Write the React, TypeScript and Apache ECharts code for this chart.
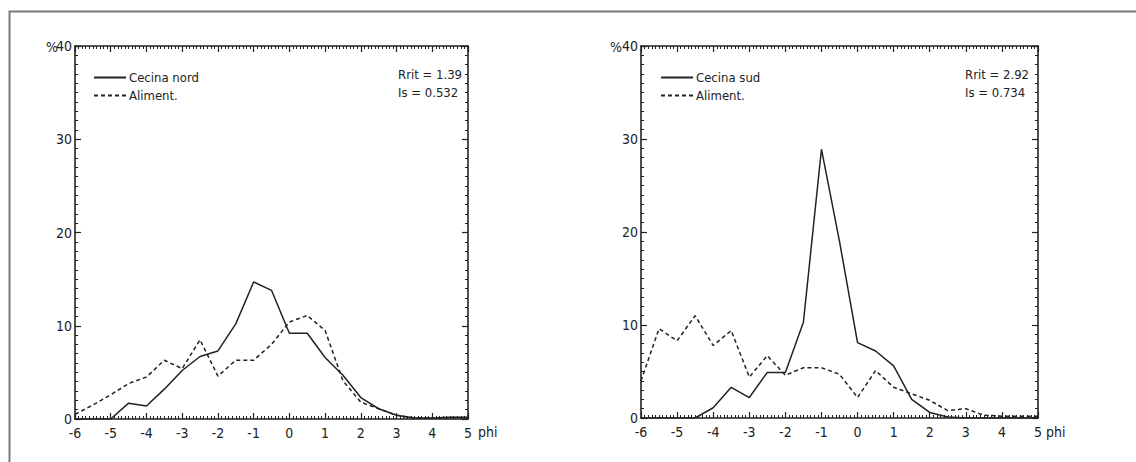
import React, { useEffect, useRef } from "react";
import * as echarts from "echarts";

const phi = [-6, -5.5, -5, -4.5, -4, -3.5, -3, -2.5, -2, -1.5, -1, -0.5, 0, 0.5, 1, 1.5, 2, 2.5, 3, 3.5, 4, 4.5, 5];
const nordSample = [0, 0, 0, 1.7, 1.4, 3.2, 5.2, 6.7, 7.3, 10.2, 14.7, 13.8, 9.2, 9.2, 6.6, 4.7, 2.3, 1.1, 0.4, 0.1, 0.1, 0.2, 0.2];
const nordFeed = [0.5, 1.5, 2.6, 3.8, 4.5, 6.3, 5.4, 8.5, 4.6, 6.3, 6.3, 8.0, 10.4, 11.1, 9.5, 4.1, 1.8, 1.1, 0.4, 0.1, 0.1, 0.1, 0.1];
const sudSample = [0, 0, 0, 0, 1.1, 3.3, 2.2, 4.9, 4.9, 10.3, 28.9, 19.0, 8.1, 7.2, 5.6, 2.0, 0.6, 0.1, 0, 0, 0, 0, 0];
const sudFeed = [4.0, 9.6, 8.3, 11.0, 7.8, 9.4, 4.4, 6.7, 4.6, 5.4, 5.4, 4.7, 2.2, 5.1, 3.3, 2.6, 1.9, 0.8, 1.0, 0.3, 0.2, 0.2, 0.2];
const nordName = "Cecina nord";
const sudName = "Cecina sud";
const feedName = "Aliment.";
const nordStats = ["Rrit = 1.39", "Is = 0.532"];
const sudStats = ["Rrit = 2.92", "Is = 0.734"];

const FONT = "'DejaVu Sans Condensed', 'Liberation Sans Narrow', 'Liberation Sans', Arial, sans-serif";
const INK = "#222222";

function pairs(vals: number[]) {
  return phi.map((x, i) => [x, vals[i]]);
}

export default function App() {
  const ref = useRef<HTMLDivElement>(null);
  useEffect(() => {
    document.body.style.margin = "0";
    if (!ref.current) return;
    const chart = echarts.init(ref.current, undefined, { renderer: "svg" });

    const grids = [
      { left: 75, top: 46, width: 393, height: 373 },
      { left: 641, top: 46, width: 397, height: 372 },
    ];

    const xAxis: any[] = [];
    const yAxis: any[] = [];
    grids.forEach((_, gi) => {
      const base = {
        type: "value",
        gridIndex: gi,
        min: -6,
        max: 5,
        interval: 1,
        splitLine: { show: false },
        axisLine: { show: true, onZero: false, lineStyle: { color: INK, width: 1.6 } },
        axisTick: { show: true, inside: true, length: 6, lineStyle: { color: INK, width: 1.2 } },
        minorTick: { show: true, splitNumber: 10, length: 3, lineStyle: { color: INK, width: 1 } },
      };
      xAxis.push({
        ...base,
        position: "bottom",
        axisLabel: { show: true, margin: 7, color: INK, fontSize: 14, fontFamily: FONT },
      });
      xAxis.push({ ...base, position: "top", axisLabel: { show: false } });
      const ybase = {
        type: "value",
        gridIndex: gi,
        min: 0,
        max: 40,
        interval: 10,
        splitLine: { show: false },
        axisLine: { show: true, onZero: false, lineStyle: { color: INK, width: 1.6 } },
        axisTick: { show: true, inside: true, length: 6, lineStyle: { color: INK, width: 1.2 } },
        minorTick: { show: true, splitNumber: 10, length: 3, lineStyle: { color: INK, width: 1 } },
      };
      yAxis.push({
        ...ybase,
        position: "left",
        axisLabel: { show: true, margin: 3, color: INK, fontSize: 14, fontFamily: FONT },
      });
      yAxis.push({ ...ybase, position: "right", axisLabel: { show: false } });
    });

    const solid = { color: INK, width: 1.5, type: "solid" };
    const dashed = { color: INK, width: 1.5, type: [4, 3] };

    const series: any[] = [
      { name: nordName, type: "line", xAxisIndex: 0, yAxisIndex: 0, data: pairs(nordSample), symbol: "none", lineStyle: solid, itemStyle: { color: INK } },
      { name: feedName, type: "line", xAxisIndex: 0, yAxisIndex: 0, data: pairs(nordFeed), symbol: "none", lineStyle: dashed, itemStyle: { color: INK } },
      { name: sudName, type: "line", xAxisIndex: 2, yAxisIndex: 2, data: pairs(sudSample), symbol: "none", lineStyle: solid, itemStyle: { color: INK } },
      { name: feedName, type: "line", xAxisIndex: 2, yAxisIndex: 2, data: pairs(sudFeed), symbol: "none", lineStyle: dashed, itemStyle: { color: INK } },
    ];

    const legendBase = {
      orient: "vertical",
      itemWidth: 32,
      itemHeight: 10,
      itemGap: 5,
      selectedMode: false,
      itemStyle: { opacity: 0 },
      textStyle: { color: INK, fontSize: 13, fontFamily: FONT, padding: [0, 0, 0, -2] },
    };

    const txt = (x: number, y: number, s: string, extra: any = {}) => ({
      type: "text",
      x,
      y,
      silent: true,
      style: { text: s, fill: INK, font: `13px ${FONT}`, textVerticalAlign: "middle", ...extra },
    });

    chart.setOption({
      animation: false,
      backgroundColor: "#fff",
      grid: grids,
      xAxis,
      yAxis,
      series,
      legend: [
        { ...legendBase, data: [nordName, feedName], left: 88, top: 66 },
        { ...legendBase, data: [sudName, feedName], left: 655, top: 66 },
      ],
      graphic: [
        { type: "rect", shape: { x: 9.5, y: 11.5, width: 1140, height: 470 }, style: { fill: "none", stroke: "#7a7a7a", lineWidth: 2 }, silent: true },
        txt(46, 47, "%", { font: `14px ${FONT}` }),
        txt(610, 47, "%", { font: `14px ${FONT}` }),
        txt(478, 432, "phi", { font: `14px ${FONT}` }),
        txt(1046, 432, "phi", { font: `14px ${FONT}` }),
        txt(398, 74, nordStats[0]),
        txt(398, 92, nordStats[1]),
        txt(965, 74, sudStats[0]),
        txt(965, 92, sudStats[1]),
      ],
    });
    return () => chart.dispose();
  }, []);
  return <div ref={ref} style={{ width: 1136, height: 462 }} />;
}
